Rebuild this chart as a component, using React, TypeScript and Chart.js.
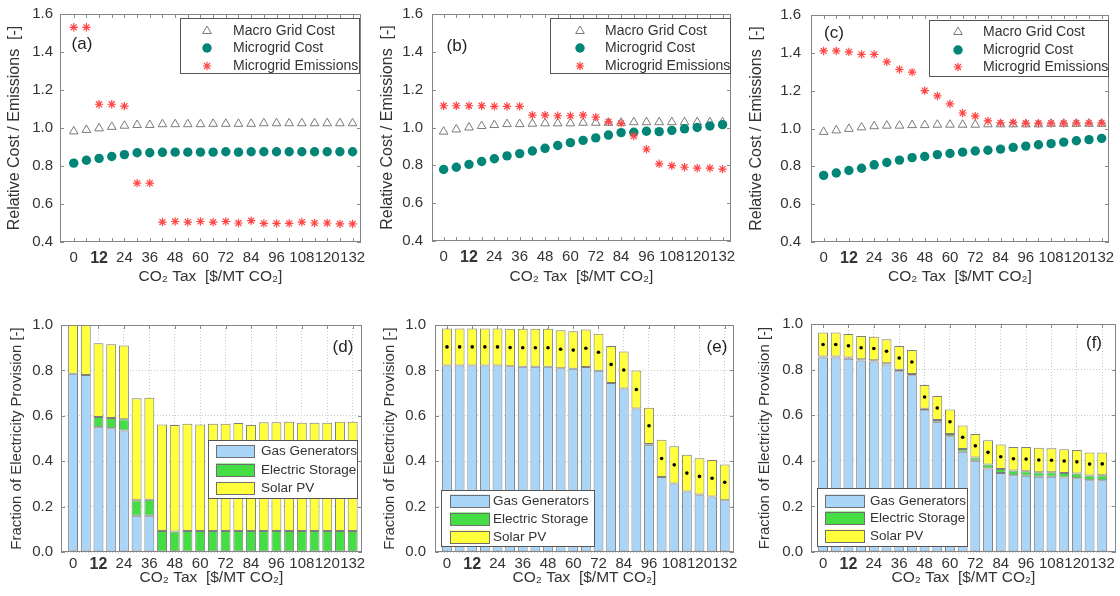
import React, { useEffect, useRef } from 'react';
import { Chart, registerables } from 'chart.js';

Chart.register(...registerables);

const FONT = '"Liberation Sans", Arial, Helvetica, sans-serif';
const TEXT = '#333333';
const TEAL = '#008577';
const RED = '#ff4545';
const TRI = '#7a7a7a';
const BLUE = '#a9d5f8';
const GREEN = '#44de44';
const YELLOW = '#ffff3c';
const EDGE = '#7d7d7d';

// ---------- data ----------
const taxes = [0, 6, 12, 18, 24, 30, 36, 42, 48, 54, 60, 66, 72, 78, 84, 90, 96, 102, 108, 114, 120, 126, 132];
const labelledTaxes = [0, 12, 24, 36, 48, 60, 72, 84, 96, 108, 120, 132];
const boldTax = 12;
const xTitle = 'CO\u2082 Tax  [$/MT CO\u2082]';
const costTitle = 'Relative Cost / Emissions  [-]';
const fracTitle = 'Fraction of Electricity Provision [-]';
const costLegend = ['Macro Grid Cost', 'Microgrid Cost', 'Microgrid Emissions'];
const techLegend = ['Gas Generators', 'Electric Storage', 'Solar PV'];

// (a)
const macroA = [0.982, 0.99, 0.998, 1.006, 1.012, 1.016, 1.016, 1.02, 1.02, 1.02, 1.02, 1.022, 1.022, 1.022, 1.022, 1.025, 1.025, 1.025, 1.025, 1.025, 1.025, 1.025, 1.025];
const microA = [0.815, 0.83, 0.84, 0.85, 0.86, 0.87, 0.87, 0.872, 0.873, 0.873, 0.873, 0.873, 0.875, 0.873, 0.875, 0.875, 0.875, 0.875, 0.875, 0.875, 0.875, 0.875, 0.875];
const emisA = [1.53, 1.53, 1.125, 1.125, 1.115, 0.71, 0.71, 0.505, 0.508, 0.505, 0.508, 0.505, 0.508, 0.5, 0.512, 0.498, 0.498, 0.498, 0.505, 0.5, 0.5, 0.495, 0.495];
// (b)
const macroB = [0.978, 0.99, 1.0, 1.008, 1.013, 1.018, 1.018, 1.02, 1.022, 1.022, 1.022, 1.025, 1.025, 1.025, 1.025, 1.028, 1.028, 1.028, 1.028, 1.028, 1.028, 1.028, 1.028];
const microB = [0.778, 0.79, 0.805, 0.82, 0.835, 0.85, 0.862, 0.876, 0.89, 0.905, 0.92, 0.932, 0.945, 0.96, 0.973, 0.975, 0.98, 0.978, 0.985, 0.993, 1.0, 1.008, 1.015];
const emisB = [1.115, 1.115, 1.115, 1.115, 1.112, 1.112, 1.112, 1.065, 1.065, 1.062, 1.062, 1.065, 1.055, 1.03, 1.022, 0.955, 0.885, 0.808, 0.798, 0.79, 0.785, 0.785, 0.78];
// (c)
const macroC = [0.982, 0.99, 0.998, 1.006, 1.012, 1.015, 1.015, 1.018, 1.018, 1.02, 1.02, 1.02, 1.02, 1.022, 1.022, 1.022, 1.022, 1.022, 1.025, 1.025, 1.025, 1.025, 1.025];
const microC = [0.752, 0.765, 0.778, 0.79, 0.808, 0.82, 0.833, 0.846, 0.852, 0.862, 0.868, 0.875, 0.881, 0.885, 0.891, 0.9, 0.907, 0.914, 0.92, 0.928, 0.935, 0.941, 0.948];
const emisC = [1.41, 1.41, 1.405, 1.392, 1.392, 1.352, 1.312, 1.298, 1.2, 1.172, 1.13, 1.082, 1.065, 1.04, 1.03, 1.032, 1.028, 1.028, 1.028, 1.028, 1.03, 1.03, 1.03];
// (d)
const gasD = [0.785, 0.78, 0.55, 0.545, 0.535, 0.16, 0.16, 0, 0, 0, 0, 0, 0, 0, 0, 0, 0, 0, 0, 0, 0, 0, 0];
const storD = [0, 0, 0.045, 0.045, 0.05, 0.068, 0.07, 0.093, 0.09, 0.093, 0.092, 0.093, 0.093, 0.093, 0.093, 0.093, 0.093, 0.093, 0.093, 0.093, 0.093, 0.093, 0.093];
const solarD = [0.215, 0.22, 0.325, 0.325, 0.325, 0.449, 0.45, 0.469, 0.47, 0.472, 0.47, 0.472, 0.472, 0.475, 0.467, 0.479, 0.479, 0.481, 0.476, 0.476, 0.476, 0.481, 0.481];
// (e)
const gasE = [0.822, 0.822, 0.822, 0.822, 0.822, 0.818, 0.816, 0.816, 0.816, 0.81, 0.807, 0.815, 0.798, 0.745, 0.72, 0.632, 0.472, 0.33, 0.302, 0.267, 0.25, 0.245, 0.228];
const storE = [0, 0, 0, 0, 0, 0, 0, 0, 0, 0, 0, 0, 0, 0, 0, 0, 0.004, 0, 0, 0, 0.003, 0, 0];
const solarE = [0.163, 0.163, 0.163, 0.163, 0.163, 0.165, 0.167, 0.167, 0.167, 0.167, 0.165, 0.165, 0.164, 0.163, 0.163, 0.168, 0.16, 0.164, 0.164, 0.161, 0.16, 0.16, 0.158];
// (f)
const gasF = [0.853, 0.853, 0.848, 0.84, 0.836, 0.822, 0.793, 0.775, 0.622, 0.571, 0.508, 0.44, 0.4, 0.366, 0.346, 0.337, 0.334, 0.33, 0.33, 0.327, 0.324, 0.315, 0.315];
const storF = [0.004, 0.004, 0.005, 0.005, 0.005, 0.006, 0.006, 0.006, 0.006, 0.008, 0.01, 0.012, 0.014, 0.018, 0.018, 0.02, 0.02, 0.02, 0.02, 0.02, 0.02, 0.02, 0.022];
const solarF = [0.106, 0.106, 0.103, 0.102, 0.103, 0.105, 0.104, 0.105, 0.104, 0.105, 0.107, 0.103, 0.103, 0.106, 0.107, 0.104, 0.107, 0.107, 0.105, 0.104, 0.103, 0.101, 0.099];

// ---------- layout ----------
type Leg = { box: number[]; markX: number; textX: number; rows: number[]; swW?: number; swH?: number };
type Geo = {
  kind: 'cost' | 'bar'; tag: string; left: number; top: number; w: number; h: number;
  l: number; r: number; t: number; b: number; xmin: number; xmax: number;
  xTickPad: number; xTitlePad: number; yTickPad: number; yTitlePad: number;
  tagX: number; tagY: number; legend: Leg;
};

const geoA: Geo = { kind: 'cost', tag: '(a)', left: 0, top: 0, w: 373, h: 300, l: 60, r: 361, t: 14, b: 242, xmin: -6.5, xmax: 136, xTickPad: 6.5, xTitlePad: 13.5, yTickPad: 7, yTitlePad: 4.9, tagX: 82, tagY: 44, legend: { box: [180, 18, 180, 56], markX: 207, textX: 233, rows: [31, 48, 66] } };
const geoB: Geo = { kind: 'cost', tag: '(b)', left: 373, top: 0, w: 373, h: 300, l: 59, r: 358, t: 14, b: 241, xmin: -5.5, xmax: 136, xTickPad: 7, xTitlePad: 13.5, yTickPad: 9, yTitlePad: 4.9, tagX: 84, tagY: 46, legend: { box: [177, 18, 181, 56], markX: 207, textX: 232, rows: [31, 48, 66] } };
const geoC: Geo = { kind: 'cost', tag: '(c)', left: 746, top: 0, w: 374, h: 300, l: 65, r: 363, t: 15, b: 242, xmin: -6, xmax: 135.5, xTickPad: 6.5, xTitlePad: 13.5, yTickPad: 10, yTitlePad: 1.4, tagX: 88, tagY: 33, legend: { box: [183, 20, 180, 57], markX: 212, textX: 237, rows: [32, 50, 67] } };
const geoD: Geo = { kind: 'bar', tag: '(d)', left: 0, top: 300, w: 373, h: 296, l: 61, r: 362, t: 25, b: 252, xmin: -5.7, xmax: 136.4, xTickPad: 2.5, xTitlePad: 8.5, yTickPad: 8, yTitlePad: 7.7, tagX: 343, tagY: 47, legend: { box: [208, 140, 150, 59], markX: 216, textX: 261, rows: [151.5, 170, 188.5], swW: 39, swH: 13 } };
const geoE: Geo = { kind: 'bar', tag: '(e)', left: 373, top: 300, w: 373, h: 296, l: 62, r: 361, t: 25, b: 252, xmin: -5.7, xmax: 136.4, xTickPad: 2.5, xTitlePad: 8.5, yTickPad: 9, yTitlePad: 7.7, tagX: 344, tagY: 47, legend: { box: [68, 190, 154, 57], markX: 77, textX: 120, rows: [201, 219, 237], swW: 40, swH: 13 } };
const geoF: Geo = { kind: 'bar', tag: '(f)', left: 746, top: 300, w: 374, h: 296, l: 65, r: 370, t: 24, b: 252, xmin: -5.7, xmax: 138.5, xTickPad: 2.5, xTitlePad: 8.5, yTickPad: 8, yTitlePad: 10, tagX: 348, tagY: 43, legend: { box: [71, 188, 151, 59], markX: 79, textX: 124, rows: [201, 218, 236], swW: 40, swH: 13 } };

// ---------- drawing helpers ----------
function drawMarker(ctx: CanvasRenderingContext2D, ds: any, x: number, y: number) {
  const r = ds.pointRadius;
  ctx.save();
  ctx.lineWidth = ds.pointBorderWidth;
  ctx.strokeStyle = ds.pointBorderColor;
  ctx.fillStyle = ds.pointBackgroundColor;
  ctx.beginPath();
  if (ds.pointStyle === 'triangle') {
    let rad = 0;
    ctx.moveTo(x + Math.sin(rad) * r, y - Math.cos(rad) * r);
    rad += (2 * Math.PI) / 3;
    ctx.lineTo(x + Math.sin(rad) * r, y - Math.cos(rad) * r);
    rad += (2 * Math.PI) / 3;
    ctx.lineTo(x + Math.sin(rad) * r, y - Math.cos(rad) * r);
    ctx.closePath();
    ctx.fill();
    ctx.stroke();
  } else if (ds.pointStyle === 'star') {
    for (let k = 0; k < 4; k++) {
      const a = (k * Math.PI) / 4;
      ctx.moveTo(x - Math.cos(a) * r, y - Math.sin(a) * r);
      ctx.lineTo(x + Math.cos(a) * r, y + Math.sin(a) * r);
    }
    ctx.stroke();
  } else {
    ctx.arc(x, y, r, 0, Math.PI * 2);
    ctx.fill();
  }
  ctx.restore();
}

function makeDecor(g: Geo) {
  return {
    id: 'decor',
    beforeDatasetsDraw(chart: any) {
      const { ctx, chartArea: a } = chart;
      const xs = chart.scales.x;
      const ys = chart.scales.y;
      ctx.save();
      ctx.strokeStyle = '#8a8a8a';
      ctx.lineWidth = 1;
      ctx.beginPath();
      for (const t of xs.ticks) {
        if (t.value < 0) continue;
        if (g.kind === 'bar' && !labelledTaxes.includes(t.value)) continue;
        const px = Math.round(xs.getPixelForValue(t.value)) + 0.5;
        ctx.moveTo(px, a.bottom);
        ctx.lineTo(px, a.bottom - 4);
        ctx.moveTo(px, a.top);
        ctx.lineTo(px, a.top + 4);
      }
      for (const t of ys.ticks) {
        const py = Math.round(ys.getPixelForValue(t.value)) + 0.5;
        ctx.moveTo(a.left, py);
        ctx.lineTo(a.left + 4, py);
        ctx.moveTo(a.right, py);
        ctx.lineTo(a.right - 4, py);
      }
      ctx.stroke();
      ctx.restore();
    },
    afterDatasetsDraw(chart: any) {
      const { ctx, chartArea: a } = chart;
      ctx.save();
      // frame
      ctx.strokeStyle = '#858585';
      ctx.lineWidth = 1;
      ctx.strokeRect(Math.round(a.left) + 0.5, Math.round(a.top) + 0.5, Math.round(a.right - a.left) - 1, Math.round(a.bottom - a.top) - 1);
      // legend
      const L = g.legend;
      const [bx, by, bw, bh] = L.box;
      ctx.fillStyle = '#ffffff';
      ctx.fillRect(bx, by, bw, bh);
      ctx.strokeStyle = '#555555';
      ctx.strokeRect(bx + 0.5, by + 0.5, bw - 1, bh - 1);
      const items = chart.data.datasets.filter((d: any) => d.label);
      ctx.font = (g.kind === 'bar' ? '13.5px ' : '14px ') + FONT;
      ctx.textBaseline = 'middle';
      ctx.textAlign = 'left';
      items.forEach((ds: any, i: number) => {
        const ry = L.rows[i];
        if (g.kind === 'bar') {
          const sw = L.swW || 40;
          const sh = L.swH || 13;
          ctx.fillStyle = ds.backgroundColor;
          ctx.fillRect(L.markX, ry - sh / 2, sw, sh);
          ctx.strokeStyle = '#6f6f6f';
          ctx.strokeRect(L.markX + 0.5, Math.round(ry - sh / 2) + 0.5, sw - 1, sh - 1);
        } else {
          drawMarker(ctx, ds, L.markX, ry);
        }
        ctx.fillStyle = TEXT;
        ctx.fillText(ds.label, L.textX, ry);
      });
      // panel tag
      ctx.font = '17px ' + FONT;
      ctx.textAlign = 'center';
      ctx.fillStyle = '#222222';
      ctx.fillText(g.tag, g.tagX, g.tagY);
      ctx.restore();
    },
  };
}

function tickFont(c: any) {
  const bold = c && c.tick && c.tick.value === boldTax;
  return { family: FONT, size: bold ? 16 : 15, weight: bold ? 'bold' : 'normal' };
}

function baseScales(g: Geo, yTitle: string, ymin: number, ymax: number, yDigits: number, grid: boolean) {
  const gridColor = (c: any) => (c.tick && labelledTaxes.includes(c.tick.value) ? '#c9c9c9' : 'rgba(0,0,0,0)');
  return {
    x: {
      type: 'linear',
      min: g.xmin,
      max: g.xmax,
      offset: false,
      stacked: true,
      afterFit: (s: any) => { s.height = g.h - g.b; s.paddingLeft = 0; s.paddingRight = 0; },
      grid: grid ? { display: true, drawTicks: false, offset: false, color: gridColor, lineWidth: 1 } : { display: false, drawTicks: false },
      border: { display: false, dash: [1, 2] },
      ticks: {
        stepSize: 6,
        includeBounds: false,
        autoSkip: false,
        maxRotation: 0,
        minRotation: 0,
        padding: g.xTickPad,
        color: TEXT,
        font: tickFont,
        callback: (v: any) => (labelledTaxes.includes(v) ? String(v) : ''),
      },
      title: { display: true, text: xTitle, color: TEXT, font: { family: FONT, size: 15.5 }, padding: { top: 0, bottom: g.xTitlePad } },
    },
    y: {
      type: 'linear',
      min: ymin,
      max: ymax,
      stacked: grid,
      afterFit: (s: any) => { s.width = g.l; s.paddingTop = 0; s.paddingBottom = 0; },
      grid: grid ? { display: true, drawTicks: false, color: '#c9c9c9', lineWidth: 1 } : { display: false, drawTicks: false },
      border: { display: false, dash: [1, 2] },
      ticks: {
        stepSize: 0.2,
        padding: g.yTickPad,
        color: TEXT,
        font: { family: FONT, size: 15 },
        callback: (v: any) => Number(v).toFixed(yDigits),
      },
      title: { display: true, text: yTitle, color: TEXT, font: { family: FONT, size: g.kind === 'bar' ? 15 : 16 }, padding: { top: g.yTitlePad, bottom: 0 } },
    },
  };
}

function commonOptions(g: Geo) {
  return {
    animation: false,
    responsive: false,
    devicePixelRatio: 1,
    events: [],
    layout: { padding: { top: g.t, right: g.w - g.r, left: 0, bottom: 0 } },
    plugins: { legend: { display: false }, tooltip: { enabled: false } },
  };
}

function costConfig(g: Geo, macro: number[], micro: number[], emis: number[]) {
  const pts = (arr: number[]) => taxes.map((x, i) => ({ x, y: arr[i] }));
  return {
    type: 'scatter',
    data: {
      datasets: [
        { label: costLegend[0], data: pts(macro), pointStyle: 'triangle', pointRadius: 5, pointBorderWidth: 1, pointBorderColor: TRI, pointBackgroundColor: 'rgba(255,255,255,0)', order: 3 },
        { label: costLegend[1], data: pts(micro), pointStyle: 'circle', pointRadius: 4.7, pointBorderWidth: 0, pointBorderColor: TEAL, pointBackgroundColor: TEAL, order: 2 },
        { label: costLegend[2], data: pts(emis), pointStyle: 'star', pointRadius: 4.2, pointBorderWidth: 1.2, pointBorderColor: RED, pointBackgroundColor: RED, order: 1 },
      ],
    },
    options: { ...commonOptions(g), scales: baseScales(g, costTitle, 0.4, 1.6, 1, false) },
    plugins: [makeDecor(g)],
  };
}

function barConfig(g: Geo, gas: number[], stor: number[], solar: number[], dots: boolean) {
  const pts = (arr: number[]) => taxes.map((x, i) => ({ x, y: arr[i] }));
  const bar = (label: string, arr: number[], color: string) => ({
    type: 'bar', label, data: pts(arr), backgroundColor: color, borderColor: EDGE, borderWidth: 1,
    borderSkipped: false, categoryPercentage: 1, barPercentage: 0.78, order: 1,
  });
  const datasets: any[] = [];
  if (dots) {
    datasets.push({
      type: 'scatter', label: '', stack: 'dots', order: -1,
      data: taxes.map((x, i) => ({ x, y: gas[i] + stor[i] + solar[i] / 2 })),
      pointRadius: 1.8, pointBorderWidth: 0, pointBackgroundColor: '#000000', pointBorderColor: '#000000',
    });
  }
  datasets.push(bar(techLegend[0], gas, BLUE), bar(techLegend[1], stor, GREEN), bar(techLegend[2], solar, YELLOW));
  return {
    type: 'bar',
    data: { datasets },
    options: { ...commonOptions(g), scales: baseScales(g, fracTitle, 0, 1, 1, true) },
    plugins: [makeDecor(g)],
  };
}

function ChartPanel({ geo, build }: { geo: Geo; build: () => any }) {
  const ref = useRef<HTMLCanvasElement | null>(null);
  useEffect(() => {
    if (!ref.current) return;
    const chart = new Chart(ref.current, build());
    return () => chart.destroy();
  }, []);
  return (
    <div style={{ position: 'absolute', left: geo.left, top: geo.top, width: geo.w, height: geo.h }}>
      <canvas ref={ref} width={geo.w} height={geo.h} style={{ display: 'block', width: geo.w, height: geo.h }} />
    </div>
  );
}

export default function App() {
  return (
    <div style={{ position: 'absolute', left: 0, top: 0, width: 1120, height: 596, background: '#ffffff', overflow: 'hidden' }}>
      <ChartPanel geo={geoA} build={() => costConfig(geoA, macroA, microA, emisA)} />
      <ChartPanel geo={geoB} build={() => costConfig(geoB, macroB, microB, emisB)} />
      <ChartPanel geo={geoC} build={() => costConfig(geoC, macroC, microC, emisC)} />
      <ChartPanel geo={geoD} build={() => barConfig(geoD, gasD, storD, solarD, false)} />
      <ChartPanel geo={geoE} build={() => barConfig(geoE, gasE, storE, solarE, true)} />
      <ChartPanel geo={geoF} build={() => barConfig(geoF, gasF, storF, solarF, true)} />
    </div>
  );
}
